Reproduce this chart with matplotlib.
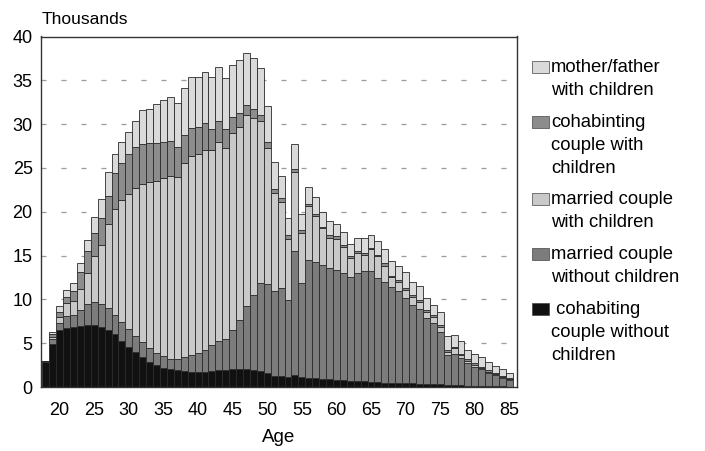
import matplotlib
matplotlib.use("Agg")
import matplotlib.pyplot as plt
from matplotlib.patches import Rectangle
import numpy as np

plt.rcParams['font.family'] = ['Liberation Sans', 'DejaVu Sans']

ages = list(range(18, 86))

cohab_no_children = [2.9, 4.9, 6.5, 6.7, 6.8, 7.0, 7.1, 7.1, 6.9, 6.5,
                     6.0, 5.3, 4.6, 4.0, 3.4, 2.9, 2.5, 2.2, 2.0, 1.9,
                     1.8, 1.7, 1.7, 1.7, 1.8, 1.9, 1.9, 2.0, 2.0, 2.0,
                     1.9, 1.8, 1.6, 1.3, 1.2, 1.1, 1.4, 1.1, 1.0, 1.0,
                     0.9, 0.9, 0.8, 0.8, 0.7, 0.7, 0.7, 0.6, 0.6, 0.5,
                     0.5, 0.45, 0.4, 0.4, 0.35, 0.3, 0.3, 0.3, 0.2, 0.2,
                     0.2, 0.15, 0.15, 0.1, 0.1, 0.1, 0.1, 0.05]
married_no_children = [0.1, 0.6, 0.8, 1.4, 1.4, 1.8, 2.4, 2.6, 2.6, 2.5,
                       2.2, 2.1, 2.0, 1.8, 1.7, 1.6, 1.4, 1.3, 1.2, 1.3,
                       1.6, 1.9, 2.2, 2.5, 3.0, 3.3, 3.6, 4.5, 5.7, 7.3,
                       8.6, 10.1, 10.2, 9.6, 10.1, 8.8, 14.1, 10.8, 13.5, 13.3,
                       13.0, 12.7, 12.6, 12.2, 11.9, 12.3, 12.5, 12.6, 11.8, 11.5,
                       10.9, 10.45, 9.7, 9.0, 8.55, 7.6, 7.0, 6.0, 3.5, 3.6,
                       3.1, 2.55, 2.15, 1.9, 1.5, 1.3, 0.9, 0.75]
married_with_children = [0.0, 0.2, 0.7, 1.5, 1.6, 2.4, 3.5, 5.2, 6.7, 9.6,
                         12.1, 13.9, 15.4, 16.9, 18.1, 18.9, 19.6, 20.3, 20.9, 20.8,
                         22.2, 22.8, 22.7, 22.8, 22.2, 22.8, 21.8, 22.5, 22.0, 21.7,
                         20.2, 18.4, 15.5, 11.2, 9.8, 7.0, 9.0, 5.7, 6.1, 5.2,
                         4.2, 3.4, 3.5, 3.0, 2.1, 2.3, 1.9, 2.5, 2.5, 1.8,
                         1.1, 1.1, 1.0, 0.9, 0.8, 0.7, 0.7, 0.6, 0.3, 0.6,
                         0.3, 0.3, 0.2, 0.15, 0.15, 0.1, 0.1, 0.1]
cohab_with_children = [0.0, 0.3, 0.6, 0.7, 1.1, 1.9, 2.5, 2.7, 3.1, 3.2,
                       4.1, 4.3, 4.6, 4.7, 4.5, 4.4, 4.3, 4.2, 4.0, 3.4,
                       3.2, 3.2, 3.1, 3.1, 2.4, 2.4, 2.2, 1.8, 1.6, 1.2,
                       1.0, 0.7, 0.7, 0.5, 0.5, 0.4, 0.4, 0.3, 0.3, 0.3,
                       0.2, 0.3, 0.3, 0.2, 0.3, 0.2, 0.2, 0.2, 0.2, 0.3,
                       0.2, 0.2, 0.2, 0.2, 0.2, 0.2, 0.2, 0.2, 0.2, 0.2,
                       0.2, 0.2, 0.2, 0.15, 0.15, 0.1, 0.1, 0.1]
single_parent = [0.0, 0.3, 0.6, 0.8, 1.0, 1.1, 1.3, 1.8, 2.2, 2.7,
                 2.2, 2.4, 2.5, 2.9, 3.9, 3.9, 4.5, 4.8, 5.0, 5.0,
                 5.3, 5.8, 5.7, 5.9, 6.0, 6.1, 5.8, 5.9, 6.0, 5.9,
                 5.9, 5.4, 4.1, 3.1, 2.5, 2.0, 2.8, 1.8, 1.9, 1.9,
                 1.7, 1.6, 1.4, 1.5, 1.3, 1.5, 1.7, 1.5, 1.6, 1.6,
                 1.7, 1.6, 1.8, 1.5, 1.6, 1.3, 1.2, 1.5, 1.6, 1.3,
                 1.4, 1.0, 1.1, 1.1, 0.9, 0.8, 0.8, 0.6]

series = [cohab_no_children, married_no_children, married_with_children,
          cohab_with_children, single_parent]
colors = ['#111111', '#7c7c7c', '#c9c9c9', '#8c8c8c', '#dadada']
labels = ['mother/father\nwith children',
          'cohabinting\ncouple with\nchildren',
          'married couple\nwith children',
          'married couple\nwithout children',
          ' cohabiting\ncouple without\nchildren']
legend_colors = ['#dadada', '#8c8c8c', '#c9c9c9', '#7c7c7c', '#111111']

fig = plt.figure(figsize=(7.05, 4.51), dpi=100)
ax = fig.add_axes([41 / 705, 1 - 387 / 451, (517 - 41) / 705, (387 - 36.5) / 451])

bottom = np.zeros(len(ages))
for vals, col in zip(series, colors):
    ax.bar(ages, vals, width=1.0, bottom=bottom, color=col,
           edgecolor='#2a2a2a', linewidth=0.6, zorder=2)
    bottom += np.array(vals)

ax.set_xlim(17.3, 86.1)
ax.set_ylim(0, 40)
ax.set_yticks(range(0, 41, 5))
ax.set_xticks(range(20, 86, 5))
ax.tick_params(axis='x', length=0, labelsize=13, pad=11)
ax.tick_params(axis='y', length=0, labelsize=13, pad=6)
for y in range(5, 40, 5):
    ax.axhline(y, color='#9a9a9a', linewidth=0.9, linestyle=(0, (4, 12)), zorder=1)
for s in ax.spines.values():
    s.set_linewidth(1.0)
    s.set_color('#333333')

fig.text(279 / 705, 1 - 437 / 451, 'Age', fontsize=13.5, va='center', ha='center')
fig.text(42 / 705, 1 - 20 / 451, 'Thousands', fontsize=12.5, va='center', ha='left')

# legend drawn manually
tops = [58, 113, 190, 245, 300]
for lab, col, ty in zip(labels, legend_colors, tops):
    fig.patches.append(Rectangle((532 / 705, 1 - (ty + 15) / 451), 17 / 705, 12 / 451,
                                 transform=fig.transFigure, facecolor=col,
                                 edgecolor='#444444', linewidth=0.5))
    fig.text(551 / 705, 1 - (ty + 1) / 451, lab, fontsize=13.3, va='top', ha='left',
             linespacing=1.45)

fig.savefig('out.png', dpi=100)
